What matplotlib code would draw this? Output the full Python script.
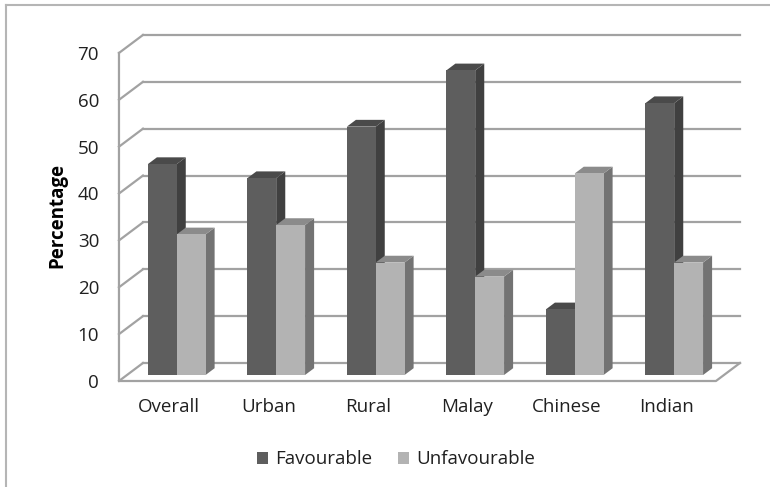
import matplotlib
matplotlib.use("Agg")
import matplotlib.pyplot as plt
from matplotlib.patches import Polygon, Patch
from matplotlib.lines import Line2D

# data
categories = ["Overall", "Urban", "Rural", "Malay", "Chinese", "Indian"]
favourable = [45, 42, 53, 65, 14, 58]
unfavourable = [30, 32, 24, 21, 43, 24]
yticks = [0, 10, 20, 30, 40, 50, 60, 70]

plt.rcParams['font.family'] = ['Open Sans', 'DejaVu Sans']

# oblique projection: depth d=0 is the back wall, d=1 the front edge
DX, DY = -0.2412, -3.841
def proj(x, v, d):
    return (x + DX * d, v + DY * d)

fig = plt.figure(figsize=(7.7, 4.87), dpi=100)
ax = fig.add_axes([0, 0, 1, 1])
ax.set_xlim(-1.437, 6.302)
ax.set_ylim(-26.46, 77.46)
ax.axis('off')

grid_c = '#a2a2a2'
ncat = len(categories)
top = yticks[-1]

# back wall gridlines + side wall diagonals
for v in yticks:
    x0, y0 = proj(0, v, 0)
    x1, y1 = proj(ncat, v, 0)
    ax.plot([x0, x1], [y0, y1], color=grid_c, lw=1.6, zorder=1)
    xf, yf = proj(0, v, 1)
    ax.plot([xf, x0], [yf, y0], color=grid_c, lw=1.6, zorder=1)

# left front edge and floor outline
p = [proj(0, top, 1), proj(0, 0, 1), proj(ncat, 0, 1), proj(ncat, 0, 0)]
ax.plot([q[0] for q in p], [q[1] for q in p], color=grid_c, lw=1.6, zorder=1)

# bars
d_front, d_back = 0.667, 0.29
bw = 0.29
styles = [
    (favourable, 0.21, ('#5e5e5e', '#404040', '#4a4a4a')),
    (unfavourable, 0.50, ('#b3b3b3', '#737373', '#8b8b8b')),
]
z = 2
for i in range(ncat):
    for vals, off, (cf, cs, ct) in styles:
        v = vals[i]
        xl = i + off
        xr = xl + bw
        front = [proj(xl, 0, d_front), proj(xr, 0, d_front),
                 proj(xr, v, d_front), proj(xl, v, d_front)]
        side = [proj(xr, 0, d_front), proj(xr, 0, d_back),
                proj(xr, v, d_back), proj(xr, v, d_front)]
        topf = [proj(xl, v, d_front), proj(xr, v, d_front),
                proj(xr, v, d_back), proj(xl, v, d_back)]
        ax.add_patch(Polygon(side, closed=True, fc=cs, ec='none', zorder=z))
        ax.add_patch(Polygon(topf, closed=True, fc=ct, ec='none', zorder=z))
        ax.add_patch(Polygon(front, closed=True, fc=cf, ec='none', zorder=z))
        z += 1

fs = 13.5
# y tick labels on the front plane
for v in yticks:
    x, y = proj(0, v, 1)
    ax.text(x - 0.2, y - 0.4, str(v), ha='right', va='center',
            fontsize=fs, color='#202020')

# category labels
for i, c in enumerate(categories):
    x, y = proj(i + 0.5, 0, 1)
    ax.text(x, y - 5.6, c, ha='center', va='center', fontsize=fs, color='#202020')

ax.text(-0.864, 31.5, 'Percentage', rotation=90, ha='center', va='center',
        fontsize=fs, fontweight='bold', color='#000000')

handles = [Patch(fc='#5e5e5e', ec='none', label='Favourable'),
           Patch(fc='#b3b3b3', ec='none', label='Unfavourable')]
fig.legend(handles=handles, loc='center', bbox_to_anchor=(0.514, 0.057), ncol=2,
           frameon=False, fontsize=fs, handlelength=0.6, handleheight=0.6,
           handletextpad=0.35, columnspacing=1.4, labelcolor='#202020')

# chart area border (top and left visible)
fig.add_artist(Line2D([6 / 770, 1], [1 - 5 / 487, 1 - 5 / 487], color='#b5b5b5', lw=1.5))
fig.add_artist(Line2D([6 / 770, 6 / 770], [0, 1 - 5 / 487], color='#b5b5b5', lw=1.5))

fig.savefig('out.png', dpi=100)
